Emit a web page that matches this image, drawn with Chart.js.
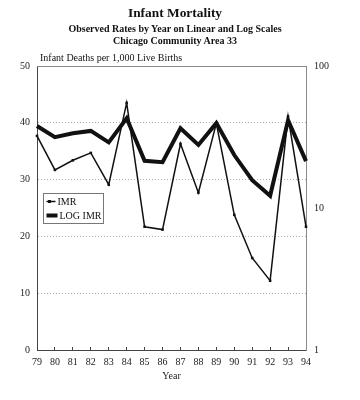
<!DOCTYPE html>
<html>
<head>
<meta charset="utf-8">
<script src="https://cdn.jsdelivr.net/npm/chart.js@4.4.1/dist/chart.umd.min.js"></script>
<style>
  html, body { margin: 0; padding: 0; background: #fff; }
  #wrap { position: relative; width: 360px; height: 400px; font-family: "Liberation Serif", "DejaVu Serif", serif; color: #111; }
  canvas { position: absolute; left: 0; top: 0; }
  .t { position: absolute; white-space: nowrap; line-height: 1; }
</style>
</head>
<body>
<div id="wrap">
  <canvas id="c" width="360" height="400"></canvas>
  <div class="t" style="left:0;width:350px;text-align:center;top:6px;font-size:13.4px;font-weight:bold;">Infant Mortality</div>
  <div class="t" style="left:0;width:350px;text-align:center;top:24px;font-size:10px;font-weight:bold;">Observed Rates by Year on Linear and Log Scales</div>
  <div class="t" style="left:0;width:350px;text-align:center;top:36px;font-size:10px;font-weight:bold;">Chicago Community Area 33</div>
  <div class="t" style="left:40px;top:53px;font-size:10px;">Infant Deaths per 1,000 Live Births</div>
</div>
<script>
const years = ['79','80','81','82','83','84','85','86','87','88','89','90','91','92','93','94'];
const imr = [37.7, 31.7, 33.4, 34.7, 29.1, 43.5, 21.7, 21.2, 36.3, 27.7, 39.9, 23.8, 16.2, 12.2, 41.1, 21.7];
const logImr = [37.8, 31.5, 33.6, 34.9, 29.0, 42.8, 21.5, 21.0, 36.4, 27.8, 39.6, 23.6, 15.7, 12.2, 41.5, 21.4];
const leftTicks = [0, 10, 20, 30, 40, 50];
const rightTicks = [1, 10, 100];

const serif = '"Liberation Serif", "DejaVu Serif", serif';

const framePlugin = {
  id: 'frame',
  afterDatasetsDraw(chart) {
    const {ctx, chartArea: a} = chart;
    ctx.save();
    ctx.strokeStyle = '#8a8a8a';
    ctx.lineWidth = 1;
    ctx.beginPath();
    ctx.moveTo(a.left, a.top + 0.5);
    ctx.lineTo(a.right, a.top + 0.5);
    ctx.stroke();
    // legend box
    const bx = a.left + 6.5, by = a.top + 127.5, bw = 60, bh = 30;
    ctx.fillStyle = '#fff';
    ctx.fillRect(bx, by, bw, bh);
    ctx.strokeStyle = '#777';
    ctx.strokeRect(bx, by, bw, bh);
    const ds = chart.data.datasets;
    ctx.font = '10px ' + serif;
    ctx.fillStyle = '#111';
    ctx.textBaseline = 'middle';
    // entry 1
    let y = by + 8;
    ctx.strokeStyle = ds[0].borderColor;
    ctx.lineWidth = ds[0].borderWidth;
    ctx.beginPath(); ctx.moveTo(bx + 3, y); ctx.lineTo(bx + 12, y); ctx.stroke();
    ctx.fillStyle = ds[0].pointBackgroundColor;
    ctx.fillRect(bx + 4.5, y - 1.5, 3, 3);
    ctx.fillStyle = '#111';
    ctx.fillText(ds[0].label, bx + 14, y + 0.5);
    // entry 2
    y = by + 22;
    ctx.strokeStyle = ds[1].borderColor;
    ctx.lineWidth = ds[1].borderWidth;
    ctx.beginPath(); ctx.moveTo(bx + 3, y); ctx.lineTo(bx + 14, y); ctx.stroke();
    ctx.fillText(ds[1].label, bx + 16, y + 0.5);
    ctx.restore();
  }
};

new Chart(document.getElementById('c'), {
  type: 'line',
  data: {
    labels: years,
    datasets: [
      {
        label: 'IMR',
        data: imr,
        yAxisID: 'y',
        borderColor: '#111',
        borderWidth: 1.5,
        pointStyle: 'rect',
        pointRadius: 1.8,
        pointBackgroundColor: '#111',
        pointBorderColor: '#111',
        pointBorderWidth: 0,
        tension: 0
      },
      {
        label: 'LOG IMR',
        data: logImr,
        yAxisID: 'y2',
        borderColor: '#111',
        borderWidth: 4,
        pointRadius: 0,
        tension: 0,
        borderJoinStyle: 'miter'
      }
    ]
  },
  options: {
    responsive: false,
    animation: false,
    events: [],
    layout: { padding: { top: 66, left: 0, right: 0, bottom: 0 } },
    plugins: { legend: { display: false }, tooltip: { enabled: false }, title: { display: false } },
    scales: {
      x: {
        type: 'category',
        offset: false,
        grid: { drawOnChartArea: false, drawTicks: true, tickLength: -3, color: '#444', offset: false },
        border: { color: '#444', width: 1 },
        ticks: { padding: 9, color: '#222', font: { family: serif, size: 10 }, maxRotation: 0, autoSkip: false },
        title: { display: true, text: 'Year', color: '#222', font: { family: serif, size: 10 }, padding: { top: 0, bottom: 18 } },
        afterFit(s) { s.height = 50; }
      },
      y: {
        position: 'left',
        min: 0, max: 50,
        afterBuildTicks(s) { s.ticks = leftTicks.map(v => ({ value: v })); },
        grid: {
          drawTicks: false,
          color: ctx => (ctx.tick && (ctx.tick.value === 0 || ctx.tick.value === 50)) ? 'rgba(0,0,0,0)' : '#b0b0b0',
          lineWidth: 1
        },
        border: { color: '#444', width: 1, dash: [1, 2] },
        ticks: { padding: 7, color: '#222', font: { family: serif, size: 10 } },
        afterFit(s) { s.width = 37; }
      },
      y2: {
        type: 'logarithmic',
        position: 'right',
        min: 1, max: 100,
        afterBuildTicks(s) { s.ticks = rightTicks.map(v => ({ value: v })); },
        grid: { drawOnChartArea: false, drawTicks: false },
        border: { color: '#8a8a8a', width: 1 },
        ticks: { padding: 8, color: '#222', font: { family: serif, size: 10 }, callback: v => String(v) },
        afterFit(s) { s.width = 54; }
      }
    }
  },
  plugins: [framePlugin]
});
</script>
</body>
</html>
